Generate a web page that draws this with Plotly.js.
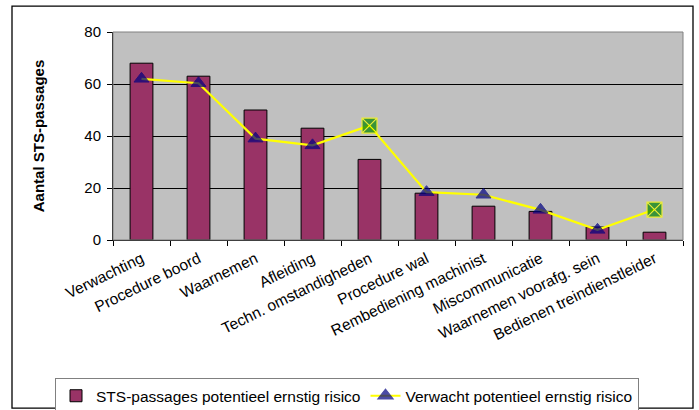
<!DOCTYPE html>
<html>
<head>
<meta charset="utf-8">
<script src="https://cdn.plot.ly/plotly-3.0.1.min.js"></script>
<style>
html,body{margin:0;padding:0;background:#fff;}
#chart{width:699px;height:410px;}
</style>
</head>
<body>
<div id="chart"></div>
<script>
const categories = ["Verwachting","Procedure boord","Waarnemen","Afleiding","Techn. omstandigheden","Procedure wal","Rembediening machinist","Miscommunicatie","Waarnemen voorafg. sein","Bedienen treindienstleider"];
const stsPassages = [68, 63, 50, 43, 31, 18, 13, 11, 5, 3];
const verwacht = [62, 60.3, 39, 36.4, 44, 18.4, 17.4, 11.6, 3.9, 11.7];
const markerSymbols = ["triangle-up","triangle-up","triangle-up","triangle-up","square-x","triangle-up","triangle-up","triangle-up","triangle-up","square-x"];
const barName = "STS-passages potentieel ernstig risico";
const lineName = "Verwacht potentieel ernstig risico";
const yTicks = [0, 20, 40, 60, 80];

const markerColors = markerSymbols.map(s => s === "square-x" ? "#008000" : "#000080");
const markerLineColors = markerSymbols.map(s => s === "square-x" ? "#FFFF00" : "#000080");
const markerSizes = markerSymbols.map(s => s === "square-x" ? 15 : 13);
const markerLineWidths = markerSymbols.map(s => s === "square-x" ? 1.2 : 1);

// plot area pixel geometry
const W = 699, H = 410, L = 113, R = 683, T = 32, B = 240.5;
const px = x => (x - L) / (R - L);
const py = y => (B - y) / (B - T);

const data = [
  {
    type: "bar",
    x: categories,
    y: stsPassages,
    name: barName,
    width: 0.4,
    marker: {color: "#993366", line: {color: "#000000", width: 1}}
  },
  {
    type: "scatter",
    mode: "lines+markers",
    x: categories,
    y: verwacht,
    name: lineName,
    line: {color: "#FFFF00", width: 2.2},
    marker: {symbol: markerSymbols, color: markerColors, size: markerSizes,
             line: {color: markerLineColors, width: markerLineWidths}}
  }
];

const layout = {
  width: W, height: H,
  margin: {l: L, r: W - R, t: T, b: H - B, pad: 0, autoexpand: false},
  paper_bgcolor: "#ffffff",
  plot_bgcolor: "#C0C0C0",
  font: {family: "Liberation Sans, Arial, sans-serif", size: 15, color: "#000"},
  showlegend: true,
  legend: {
    orientation: "h",
    x: px(55), xanchor: "left",
    y: py(379), yanchor: "top",
    bgcolor: "#ffffff",
    bordercolor: "#808080", borderwidth: 1,
    font: {size: 15.5, family: "Liberation Sans, Arial, sans-serif"},
    itemwidth: 30, tracegroupgap: 0
  },
  xaxis: {
    type: "category",
    range: [-0.5, categories.length - 0.5],
    tickangle: -26,
    tickson: "boundaries",
    ticks: "outside", ticklen: 5, tickcolor: "#000",
    showline: true, linecolor: "#000", linewidth: 1,
    showgrid: false,
    tickfont: {size: 15.5},
    ticklabelstandoff: 3,
    automargin: false
  },
  yaxis: {
    range: [0, 80],
    tickvals: yTicks,
    ticks: "outside", ticklen: 5, tickcolor: "#000",
    showline: true, linecolor: "#000", linewidth: 1,
    showgrid: true, gridcolor: "#000", gridwidth: 1,
    zeroline: false,
    tickfont: {size: 15},
    ticklabelstandoff: 3,
    title: {text: "Aantal STS-passages", font: {size: 15, weight: "bold"}, standoff: 36},
    automargin: false
  },
  shapes: [
    {type: "rect", xref: "paper", yref: "paper", x0: 0, x1: 1, y0: 0, y1: 1,
     line: {color: "#808080", width: 1}, fillcolor: "rgba(0,0,0,0)", layer: "above"},
    {type: "rect", xref: "paper", yref: "paper", x0: px(12), x1: px(693), y0: py(409), y1: py(6),
     line: {color: "#000000", width: 1.3}, fillcolor: "rgba(0,0,0,0)", layer: "below"}
  ]
};

Plotly.newPlot("chart", data, layout, {displayModeBar: false, staticPlot: true});
</script>
</body>
</html>
